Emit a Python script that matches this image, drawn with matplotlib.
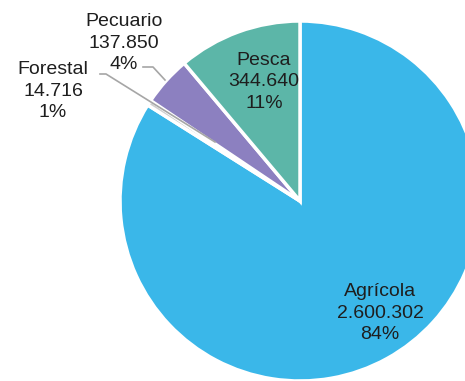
import matplotlib
matplotlib.use("Agg")
import matplotlib.pyplot as plt

categories = ["Agrícola", "Forestal", "Pecuario", "Pesca"]
values = [2600302, 14716, 137850, 344640]
percents = ["84%", "1%", "4%", "11%"]
colors = ["#3AB7E9", "#D0D0D0", "#8C80C0", "#5CB6A8"]

plt.rcParams['font.family'] = ['Liberation Sans', 'DejaVu Sans']

def fmt(v):
    return f"{v:,}".replace(",", ".")

labels = [f"{c}\n{fmt(v)}\n{p}" for c, v, p in zip(categories, values, percents)]

fig = plt.figure(figsize=(4.65, 3.81), dpi=100)
W, H = 465, 381
cx, cy, r = 300, 201, 180
ax = fig.add_axes([(cx - r) / W, (H - cy - r) / H, 2 * r / W, 2 * r / H])
ax.pie(values, colors=colors, startangle=90, counterclock=False,
       wedgeprops=dict(edgecolor="white", linewidth=2.5), radius=1)
ax.set_xlim(-1, 1)
ax.set_ylim(-1, 1)
ax.set_aspect("equal")
ax.axis("off")
for p in ax.patches:
    p.set_clip_on(False)

def d(px, py):
    return ((px - cx) / r, (cy - py) / r)

tc = "#1E1E1E"
fs = 14
ls = 1.38
ax.text(*d(380, 313), labels[0], ha="center", va="center", fontsize=fs, color=tc, linespacing=ls)
ax.text(*d(264, 82), labels[3], ha="center", va="center", fontsize=fs, color=tc, linespacing=ls)
ax.text(*d(124, 43), labels[2], ha="center", va="center", fontsize=fs, color=tc, linespacing=ls)
ax.text(*d(53, 91), labels[1], ha="center", va="center", fontsize=fs, color=tc, linespacing=ls)

lc = "#A6A6A6"
xs, ys = zip(d(143, 67), d(153, 67), d(165, 80))
ax.plot(xs, ys, color=lc, lw=1.2, clip_on=False)
xs, ys = zip(d(100, 74), d(106, 74), d(215, 142))
ax.plot(xs, ys, color=lc, lw=1.2, clip_on=False)

fig.savefig("out.png", dpi=100, facecolor="white")
